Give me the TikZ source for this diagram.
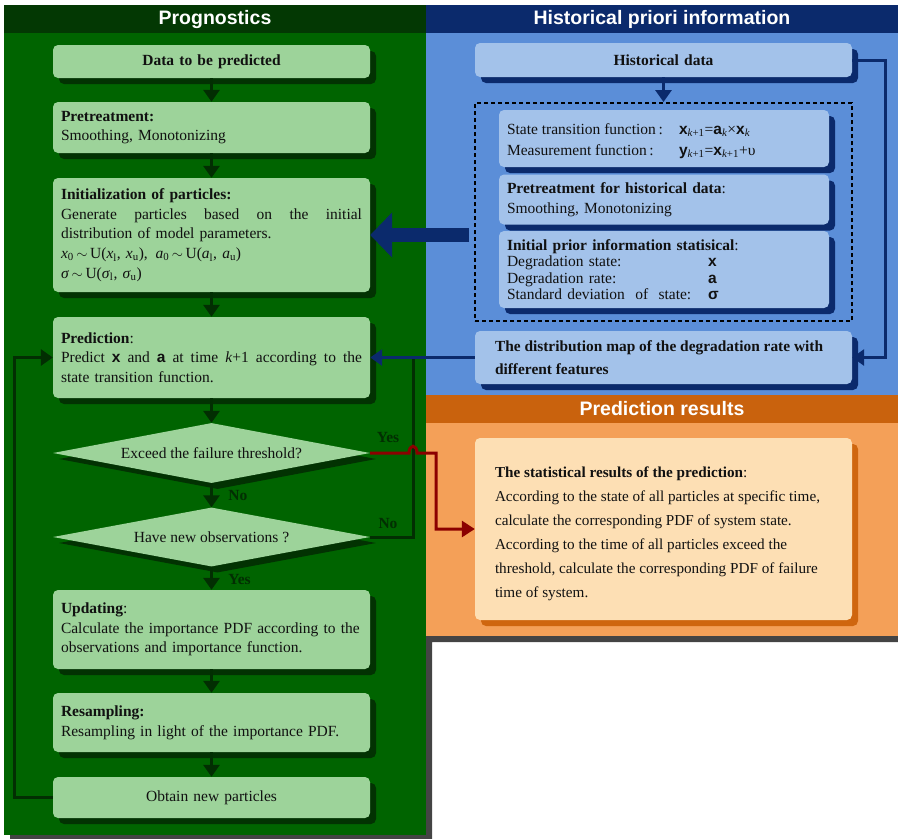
\documentclass[tikz,border=0pt]{standalone}
\usepackage{fontspec}
\setmainfont{Liberation Serif}
\setsansfont{Liberation Sans}
\usetikzlibrary{arrows.meta,shapes.geometric,shadows}
\definecolor{gpanel}{HTML}{006400}
\definecolor{ghead}{HTML}{033803}
\definecolor{gfill}{HTML}{9DD39A}
\definecolor{gshad}{HTML}{023202}
\definecolor{bpanel}{HTML}{5B8ED8}
\definecolor{bhead}{HTML}{0B2A6C}
\definecolor{bfill}{HTML}{A3C2EA}
\definecolor{bshad}{HTML}{0B2A6C}
\definecolor{ohead}{HTML}{C9620D}
\definecolor{opanel}{HTML}{F4A058}
\definecolor{ofill}{HTML}{FDDFB4}
\definecolor{oshad}{HTML}{CF660F}
\definecolor{redl}{HTML}{8B0000}
\definecolor{grayshad}{HTML}{444444}
\definecolor{txt}{HTML}{111111}
\definecolor{garr}{HTML}{022E02}
\newcommand{\bsx}[1]{{\sffamily\bfseries #1}}
\newcommand{\fullline}[1]{\makebox[301pt][s]{\spaceskip=.25em plus 2em\relax #1}}
\tikzset{
  basefont/.style={font=\fontsize{15.5}{19.7}\selectfont, text=txt},
  greenbox/.style={rectangle, rounded corners=5pt, fill=gfill, inner xsep=8pt, inner ysep=2pt,
    text width=301pt, align=left, minimum width=317pt, basefont,
    drop shadow={shadow xshift=6pt, shadow yshift=-6pt, fill=gshad, opacity=1}},
  greendia/.style={diamond, aspect=5.3, fill=gfill, inner sep=0pt, minimum width=317pt, basefont,
    drop shadow={shadow xshift=6pt, shadow yshift=-6pt, fill=gshad, opacity=1}},
  bluebox/.style={rectangle, rounded corners=5pt, fill=bfill, inner xsep=20pt, inner ysep=2pt,
    text width=337pt, align=left, minimum width=377pt, basefont,
    drop shadow={shadow xshift=6pt, shadow yshift=-6pt, fill=bshad, opacity=1}},
  innerbox/.style={rectangle, rounded corners=5pt, fill=bfill, inner xsep=8pt, inner ysep=2pt,
    text width=314pt, align=left, minimum width=330pt, basefont,
    drop shadow={shadow xshift=6pt, shadow yshift=-6pt, fill=bshad, opacity=1}},
  orangebox/.style={rectangle, rounded corners=5pt, fill=ofill, inner sep=0pt, minimum width=377pt,
    drop shadow={shadow xshift=6pt, shadow yshift=-6pt, fill=oshad, opacity=1}},
  freetext/.style={anchor=west, inner sep=0pt, align=left, text=txt},
  headtext/.style={font=\fontsize{19.5}{23}\selectfont\sffamily\bfseries, text=white},
  garrow/.style={draw=garr, line width=3pt, -{Triangle[length=12pt,width=16pt]}},
  narrow/.style={draw=bhead, line width=3pt, -{Triangle[length=12pt,width=16pt]}},
  rarrow/.style={draw=redl, line width=3pt, -{Triangle[length=13pt,width=16pt]}},
  lbl/.style={font=\fontsize{15.5}{18}\selectfont\bfseries, text=garr},
}
\begin{document}
\begin{tikzpicture}[x=1pt,y=-1pt]
\useasboundingbox (0,0) rectangle (898,839);
% shadow of panels
\fill[grayshad] (10,11) -- (904,11) -- (904,642) -- (432,642) -- (432,841) -- (10,841) -- cycle;
% panels
\fill[gpanel] (4,5) rectangle (426,835);
\fill[ghead] (4,5) rectangle (426,33);
\fill[bpanel] (426,5) rectangle (898,395);
\fill[bhead] (426,5) rectangle (898,33);
\fill[opanel] (426,395) rectangle (898,636);
\fill[ohead] (426,395) rectangle (898,423);
\node[headtext] (h1) at (215,19) {Prognostics};
\node[headtext] (h2) at (662,19) {Historical priori information};
\node[headtext] (h3) at (662,409) {Prediction results};

% green column
\node[greenbox, align=center, minimum height=33pt] (data) at (211.5,61.5) {\textbf{Data to be predicted}};
\node[greenbox, minimum height=51pt] (pre) at (211.5,127.5) {\textbf{Pretreatment:}\\Smoothing, Monotonizing};
\node[greenbox, minimum height=114pt] (init) at (211.5,235) {\textbf{Initialization of particles:}\\
\fullline{Generate particles based on the initial}\\
distribution of model parameters.\\
\textit{x}\textsubscript{0}\,$\sim$\,U(\textit{x}\textsubscript{l}, \textit{x}\textsubscript{u}),\enspace \textit{a}\textsubscript{0}\,$\sim$\,U(\textit{a}\textsubscript{l}, \textit{a}\textsubscript{u})\\
\textit{σ}\,$\sim$\,U(\textit{σ}\textsubscript{l}, \textit{σ}\textsubscript{u})};
\node[greenbox, minimum height=81pt] (pred) at (211.5,357.5) {\textbf{Prediction}:\\
\fullline{Predict \bsx{x} and \bsx{a} at time \textit{k}+1 according to the}\\
state transition function.};
\node[greendia, minimum height=60pt] (dia1) at (211.5,453) {Exceed the failure threshold?};
\node[greendia, minimum height=59pt] (dia2) at (211.5,537) {Have new observations ?};
\node[greenbox, minimum height=79pt] (upd) at (211.5,629.5) {\textbf{Updating}:\\
Calculate the importance PDF according to the\\observations and importance function.};
\node[greenbox, minimum height=59pt] (res) at (211.5,722.5) {\textbf{Resampling:}\\Resampling in light of the importance PDF.};
\node[greenbox, align=center, minimum height=41pt] (obt) at (211.5,797.5) {Obtain new particles};

% blue column
\node[bluebox, align=center, minimum height=34pt] (hist) at (663.5,60) {\textbf{Historical data}};
\node[draw=black, dashed, dash pattern=on 4pt off 3pt, line width=2pt, minimum width=377pt, minimum height=218pt, inner sep=0pt] (dash) at (663.5,212) {};
\node[innerbox, minimum height=57pt] (st) at (664,138.5) {};
\node[freetext, font=\fontsize{15.5}{21}\selectfont] (stt) at ([xshift=8pt, yshift=-2.5pt]st.west) {%
\makebox[172pt][l]{State transition function\,:}\bsx{x}\textsubscript{\textit{k}+1}=\bsx{a}\textsubscript{\textit{k}}×\bsx{x}\textsubscript{\textit{k}}\\
\makebox[172pt][l]{Measurement function\,:}\bsx{y}\textsubscript{\textit{k}+1}=\bsx{x}\textsubscript{\textit{k}+1}+υ};
\node[innerbox, minimum height=50pt] (pth) at (664,199.5) {\textbf{Pretreatment for historical data}:\\Smoothing, Monotonizing};
\node[innerbox, minimum height=77pt, font=\fontsize{15.5}{16.3}\selectfont] (ini) at (664,269.5) {\textbf{Initial prior information statisical}:\\
\makebox[201pt][l]{Degradation state:}\bsx{x}\\
\makebox[201pt][l]{Degradation rate:}\bsx{a}\\
\makebox[201pt][l]{Standard deviation\ \ of\ \ state:}\bsx{σ}};
\node[bluebox, minimum height=53pt] (dist) at (663.5,357.5) {};
\node[freetext, font=\fontsize{15.4}{23}\selectfont\bfseries] (distt) at ([xshift=20pt]dist.west) {The distribution map of the degradation rate with\\different features};

% orange
\node[orangebox, minimum height=182pt] (res2) at (663.5,529) {};
\node[freetext, font=\fontsize{15.2}{24}\selectfont] (res2t) at ([xshift=20pt, yshift=-5pt]res2.west) {\textbf{The statistical results of the prediction}:\\
According to the state of all particles at specific time,\\
calculate the corresponding PDF of system state.\\
According to the time of all particles exceed the\\
threshold, calculate the corresponding PDF of failure\\
time of system.};

% coordinates
\coordinate (loopx) at (14,0);
\coordinate (nox) at (413,0);
\coordinate (rx) at (885,0);
\coordinate (redx) at (436,0);

% green arrows
\draw[garrow] (data) -- (pre);
\draw[garrow] (pre) -- (init);
\draw[garrow] (init) -- (pred);
\draw[garrow] (pred) -- (dia1);
\draw[garrow] (dia1) -- node[lbl, right=12pt, pos=0.5] (lno1) {No} (dia2);
\draw[garrow] (dia2) -- node[lbl, right=12pt, pos=0.55] (lyes2) {Yes} (upd);
\draw[garrow] (upd) -- (res);
\draw[garrow] (res) -- (obt);
\draw[garrow] (obt.west) -- (obt.west -| loopx) |- (pred.west);
\draw[draw=garr, line width=3pt] (dia2.east) -- (dia2.east -| nox) -- (pred.east -| nox);
\node[lbl] (lno2) at (388,523) {No};
\node[lbl] (lyes1) at (388,437) {Yes};

% blue arrows
\draw[narrow] (hist) -- (dash);
\draw[narrow] (hist.east) -- (hist.east -| rx) |- (dist.east);
\draw[narrow] (dist.west) -- (pred.east);
\draw[draw=bhead, line width=14pt, -{Triangle[length=22pt,width=44pt]}] ([xshift=-5pt]dash.west |- init.east) -- (init.east);

% red
\draw[rarrow] (dia1.east) -- ([xshift=-4pt]dia1.east -| nox) .. controls ([xshift=-4pt,yshift=9pt]dia1.east -| nox) and ([xshift=4pt,yshift=9pt]dia1.east -| nox) .. ([xshift=4pt]dia1.east -| nox) -- (dia1.east -| redx) |- (res2.west);
\end{tikzpicture}
\end{document}
